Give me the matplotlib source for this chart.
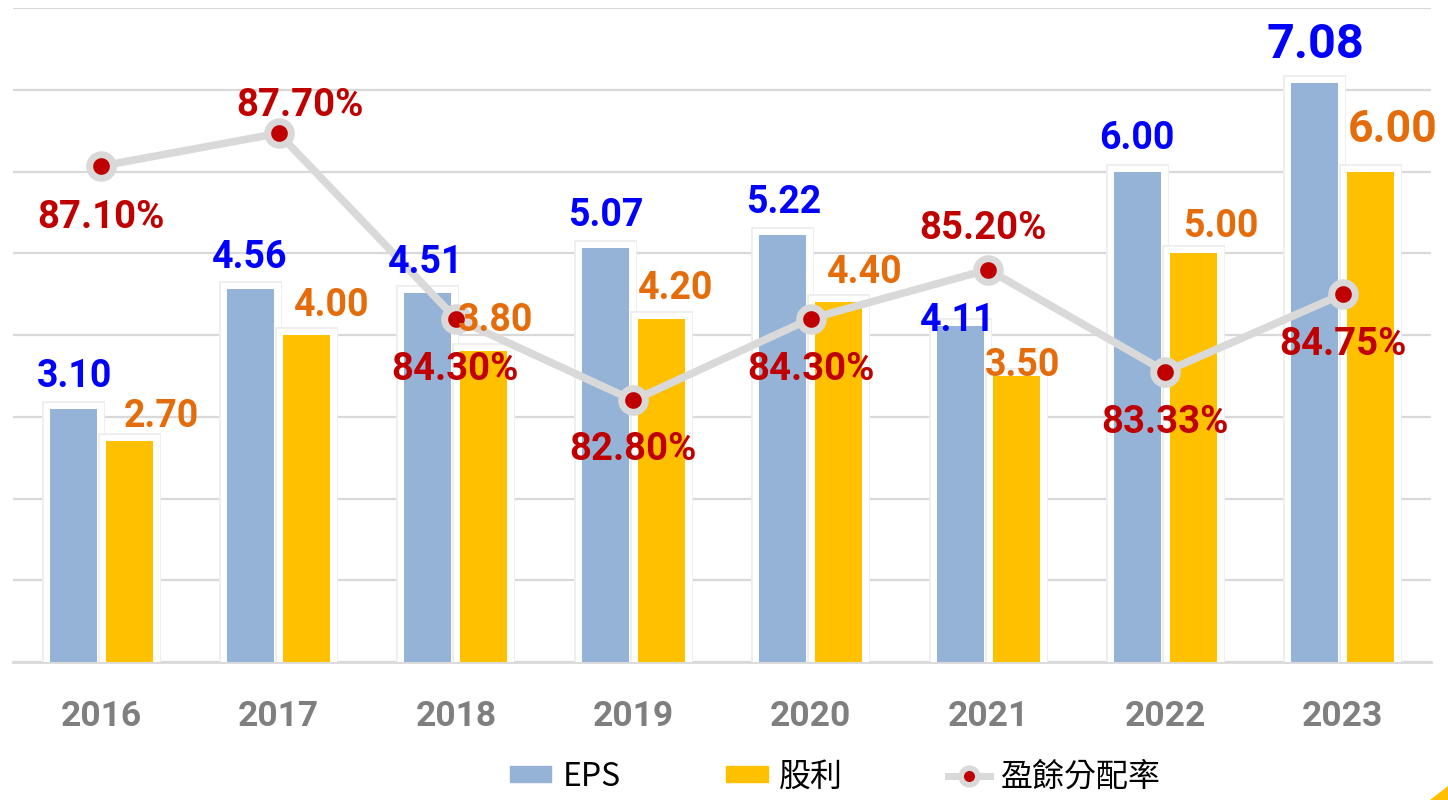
import numpy as np
import matplotlib
matplotlib.use("Agg")
import matplotlib.pyplot as plt
import matplotlib.patheffects as pe
from matplotlib.patches import Patch, Polygon
from matplotlib.lines import Line2D

years = ["2016", "2017", "2018", "2019", "2020", "2021", "2022", "2023"]
eps = [3.10, 4.56, 4.51, 5.07, 5.22, 4.11, 6.00, 7.08]
dividend = [2.70, 4.00, 3.80, 4.20, 4.40, 3.50, 5.00, 6.00]
payout = [87.10, 87.70, 84.30, 82.80, 84.30, 85.20, 83.33, 84.75]

# label placement tweaks (pixels from the mark)
eps_off = [(1, 32), (-1, 32), (-2, 31), (0, 32), (1, 33), (-2, 6), (-1, 33), (1, 38)]
div_off = [(32, 25), (25, 30), (12, 31), (14, 30), (26, 30), (6, 10), (27, 27), (22, 41)]
pct_off = [(0, -51), (21, 28), (-1, -51), (0, -49), (0, -51), (-5, 41), (-1, -51), (0, -50)]

C_EPS = "#95B3D7"
C_DIV = "#FFC000"
C_LINE = "#D9D9D9"
C_RED = "#C00000"

fig = plt.figure(figsize=(14.48, 8), dpi=100)
ax = fig.add_axes([13 / 1448, 1 - 662 / 800, (1431 - 13) / 1448, (662 - 8) / 800])
x = np.arange(len(years))
w = 0.265
d = 0.158

frame = [pe.Stroke(linewidth=11.5, foreground="#EEEEEE"),
         pe.Stroke(linewidth=9.5, foreground="white"), pe.Normal()]
b1 = ax.bar(x - d, eps, w, color=C_EPS, zorder=3)
b2 = ax.bar(x + d, dividend, w, color=C_DIV, zorder=3)
for r in list(b1) + list(b2):
    r.set_path_effects(frame)

ax.set_xlim(-0.497, 7.497)
ax.set_ylim(0, 8)
ax.set_yticks(range(9))
ax.set_yticklabels([])
ax.tick_params(axis="y", length=0)
ax.grid(axis="y", color="#D9D9D9", linewidth=1.6)
ax.set_axisbelow(True)
for s in ["left", "right", "top"]:
    ax.spines[s].set_visible(False)
ax.spines["bottom"].set_color("#D9D9D9")
ax.spines["bottom"].set_linewidth(2)
ax.set_xticks(x)
ax.set_xticklabels(years, fontfamily="Roboto", fontweight="bold", fontsize=25.5, color="#7F7F7F")
ax.tick_params(axis="x", length=0, pad=27)

ax2 = ax.twinx()
ax2.set_ylim(78, 90)
ax2.set_yticks([])
for s in ax2.spines.values():
    s.set_visible(False)
ax2.plot(x, payout, color=C_LINE, linewidth=5.5, marker="o", markersize=17,
         markerfacecolor=C_RED, markeredgecolor=C_LINE, markeredgewidth=5, zorder=4)

for i in range(len(years)):
    big = i == len(years) - 1
    ax2.annotate(f"{eps[i]:.2f}", (x[i] - d, eps[i]), xycoords=ax.transData,
                 xytext=eps_off[i], textcoords="offset pixels", ha="center", va="center",
                 fontfamily="Roboto", fontweight="bold", fontsize=35 if big else 27,
                 color="#0000FF", zorder=5)
    ax2.annotate(f"{dividend[i]:.2f}", (x[i] + d, dividend[i]), xycoords=ax.transData,
                 xytext=div_off[i], textcoords="offset pixels", ha="center", va="center",
                 fontfamily="Roboto", fontweight="bold", fontsize=32 if big else 27,
                 color="#E46C0A", zorder=5)
    ax2.annotate(f"{payout[i]:.2f}%", (x[i], payout[i]),
                 xytext=pct_off[i], textcoords="offset pixels", ha="center", va="center",
                 fontfamily="Roboto", fontweight="bold", fontsize=27.5,
                 color=C_RED, zorder=6)

handles = [Patch(color=C_EPS), Patch(color=C_DIV),
           Line2D([], [], color=C_LINE, linewidth=5, marker="o", markersize=12,
                  markerfacecolor=C_RED, markeredgecolor=C_LINE, markeredgewidth=4)]
fig.legend(handles, ["EPS", "股利", "盈餘分配率"], loc="center",
           bbox_to_anchor=(0.577, 0.029), ncol=3, frameon=False,
           prop={"family": ["Noto Sans CJK TC", "DejaVu Sans"], "size": 23},
           handlelength=1.3, handleheight=0.4, handletextpad=0.35, columnspacing=3.3)

# small corner accent
fig.patches.append(Polygon([[1430, 0], [1448, 0], [1448, 14]], closed=True,
                           transform=None, facecolor="#FFC000", edgecolor="none"))

fig.savefig("out.png", dpi=100)
